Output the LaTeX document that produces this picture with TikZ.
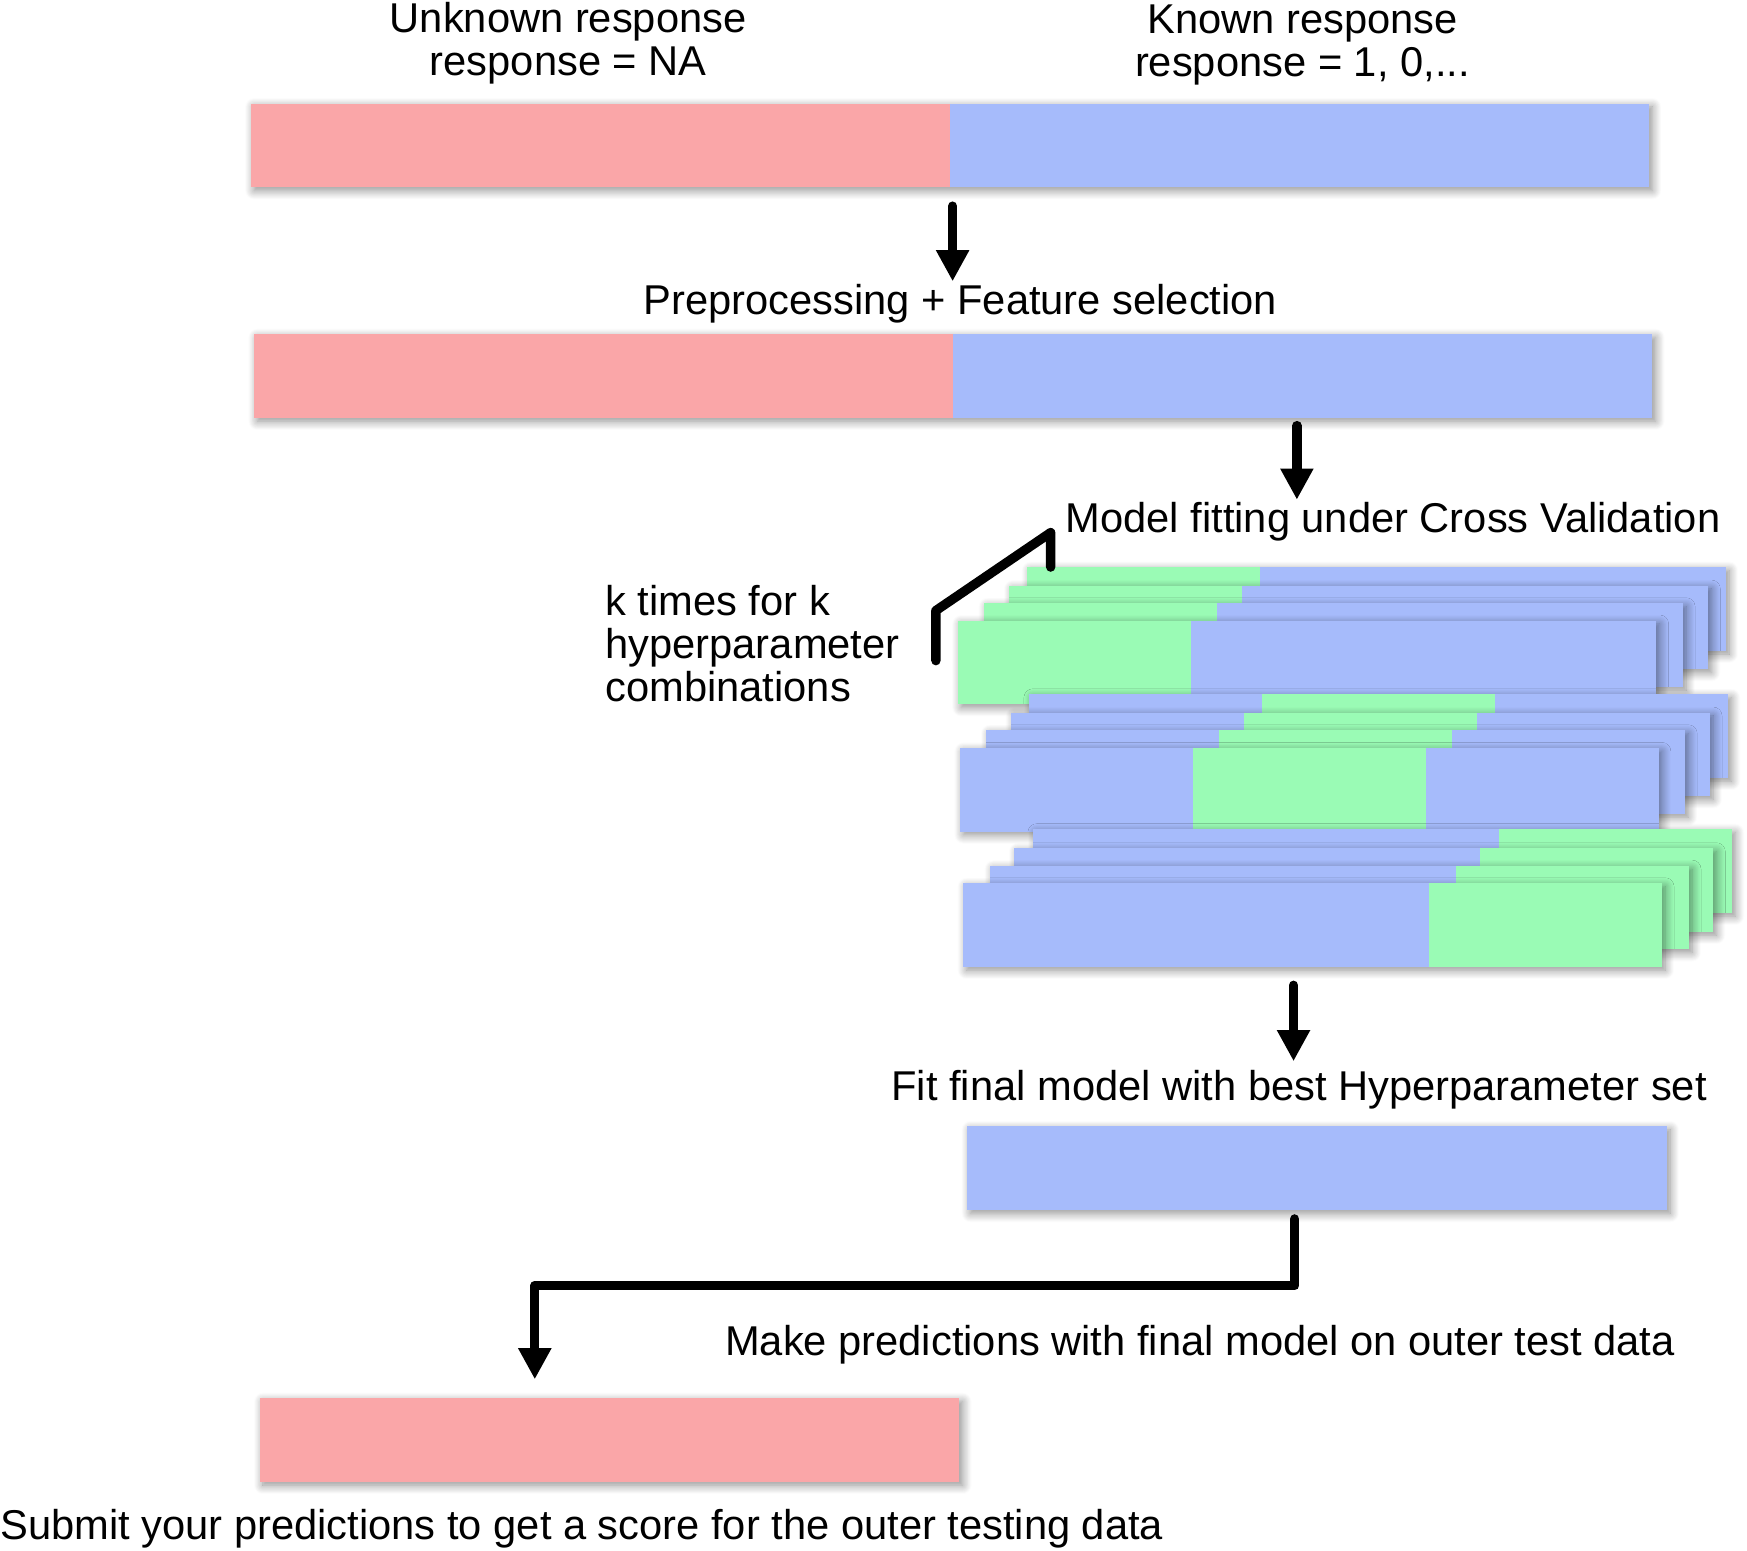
\documentclass[tikz,border=0pt]{standalone}
\usepackage{fontspec}
\setmainfont{Liberation Sans}
\usetikzlibrary{arrows.meta,shadows.blur}

\definecolor{unkred}{RGB}{250,166,168}
\definecolor{knownblue}{RGB}{166,187,251}
\definecolor{foldgreen}{RGB}{154,251,181}

\tikzset{
  labeltext/.style={font=\fontsize{18.7}{19.2}\selectfont, inner sep=0pt},
  databar/.style={inner sep=0pt, outer sep=0pt, minimum height=37.5pt, fill=knownblue,
    blur shadow={shadow xshift=1.5pt, shadow yshift=-1.5pt, shadow blur radius=4pt,
      shadow blur steps=10, shadow opacity=45}},
  halfbar/.style={inner sep=0pt, outer sep=0pt, minimum height=37.5pt, minimum width=314pt},
  fold/.style={databar, minimum width=313.5pt, anchor=north west},
  foldpart/.style={inner sep=0pt, outer sep=0pt, minimum height=37.5pt, minimum width=104.5pt, fill=foldgreen},
  thickline/.style={line width=4.2pt, line cap=round, line join=round},
  thickarrow/.style={thickline, -{Triangle[width=14pt,length=14pt]}},
}

\begin{document}
\begin{tikzpicture}[x=0.5pt, y=-0.5pt]
    \useasboundingbox (0,0) rectangle (1568,1392);

    % Full data set
    \node[labeltext, align=center, anchor=north] (unklabel) at (510,2) {Unknown response\\response = NA};
    \node[labeltext, align=center, anchor=north] (knownlabel) at (1169,4) {Known response\\response = 1, 0,...};
    \node[databar, minimum width=627.5pt, anchor=north west] (full1) at (225,93) {};
    \node[halfbar, fill=unkred, anchor=north west] (unk1) at (full1.north west) {};

    % After preprocessing
    \node[labeltext, anchor=base] (prep) at (862,282) {Preprocessing + Feature selection};
    \node[databar, minimum width=627.5pt, anchor=north west] (full2) at (228,300) {};
    \node[halfbar, fill=unkred, anchor=north west] (unk2) at (full2.north west) {};
    \node[halfbar, fill=knownblue, anchor=north east] (known2) at (full2.north east) {};

    \draw[thickarrow] ([xshift=1.25pt,yshift=-8.5pt]full1.south) -- ([xshift=1.25pt,yshift=1pt]full1.south |- prep.north);

    % Cross validation folds
    \node[labeltext, anchor=base west] (cv) at (956,478) {Model fitting under Cross Validation};
    \draw[thickarrow] ([xshift=-2.5pt,yshift=-3.5pt]known2.south) -- ([xshift=-2.5pt,yshift=1pt]known2.south |- cv.north);

    % first group, validation part on the left
    \node[fold] (f1d) at (922,509) {};
    \node[foldpart, anchor=north west] at (f1d.north west) {};
    \node[fold] (f1c) at (906,525.6) {};
    \node[foldpart, anchor=north west] at (f1c.north west) {};
    \node[fold] (f1b) at (883.4,541.5) {};
    \node[foldpart, anchor=north west] at (f1b.north west) {};
    \node[fold] (f1a) at (859.6,557) {};
    \node[foldpart, anchor=north west] at (f1a.north west) {};

    % second group, validation part in the middle
    \node[fold] (f2d) at (924,623.2) {};
    \node[foldpart, anchor=north west] at ([xshift=104.5pt]f2d.north west) {};
    \node[fold] (f2c) at (907.6,639.6) {};
    \node[foldpart, anchor=north west] at ([xshift=104.5pt]f2c.north west) {};
    \node[fold] (f2b) at (885.3,655.5) {};
    \node[foldpart, anchor=north west] at ([xshift=104.5pt]f2b.north west) {};
    \node[fold] (f2a) at (861.6,671.3) {};
    \node[foldpart, anchor=north west] at ([xshift=104.5pt]f2a.north west) {};

    % third group, validation part on the right
    \node[fold] (f3d) at (927.5,744.3) {};
    \node[foldpart, anchor=north east] at (f3d.north east) {};
    \node[fold] (f3c) at (910.5,761.4) {};
    \node[foldpart, anchor=north east] at (f3c.north east) {};
    \node[fold] (f3b) at (888.7,777) {};
    \node[foldpart, anchor=north east] at (f3b.north east) {};
    \node[fold] (f3a) at (864.5,792.8) {};
    \node[foldpart, anchor=north east] at (f3a.north east) {};

    % bracket for the repetitions
    \node[labeltext, align=left, anchor=north west] (ktimes) at (543,525) {k times for k\\hyperparameter\\combinations};
    \draw[thickline] ([xshift=10.5pt]f1d.north west) -- ++(0,-31) -- ++(-103,70) -- ++(0,45);

    % Final model
    \node[labeltext, anchor=base] (fit) at (1166,988) {Fit final model with best Hyperparameter set};
    \draw[thickarrow] ([xshift=-8.5pt,yshift=-8.25pt]f3a.south) -- ([xshift=-8.5pt,yshift=4pt]f3a.south |- fit.north);
    \node[databar, minimum width=314pt, anchor=north west] (final) at (868,1011) {};

    % Predictions on outer test data
    \node[labeltext, anchor=base] (pred) at (1077,1217) {Make predictions with final model on outer test data};
    \node[databar, fill=unkred, minimum width=314pt, anchor=north west] (outer) at (233,1255) {};
    \draw[thickarrow] ([xshift=-10pt,yshift=-4pt]final.south) -- ++(0,60) -| ([xshift=-33.5pt,yshift=8.5pt]outer.north);

    \node[labeltext, anchor=base west] (submit) at (0,1382) {Submit your predictions to get a score for the outer testing data};

\end{tikzpicture}
\end{document}
